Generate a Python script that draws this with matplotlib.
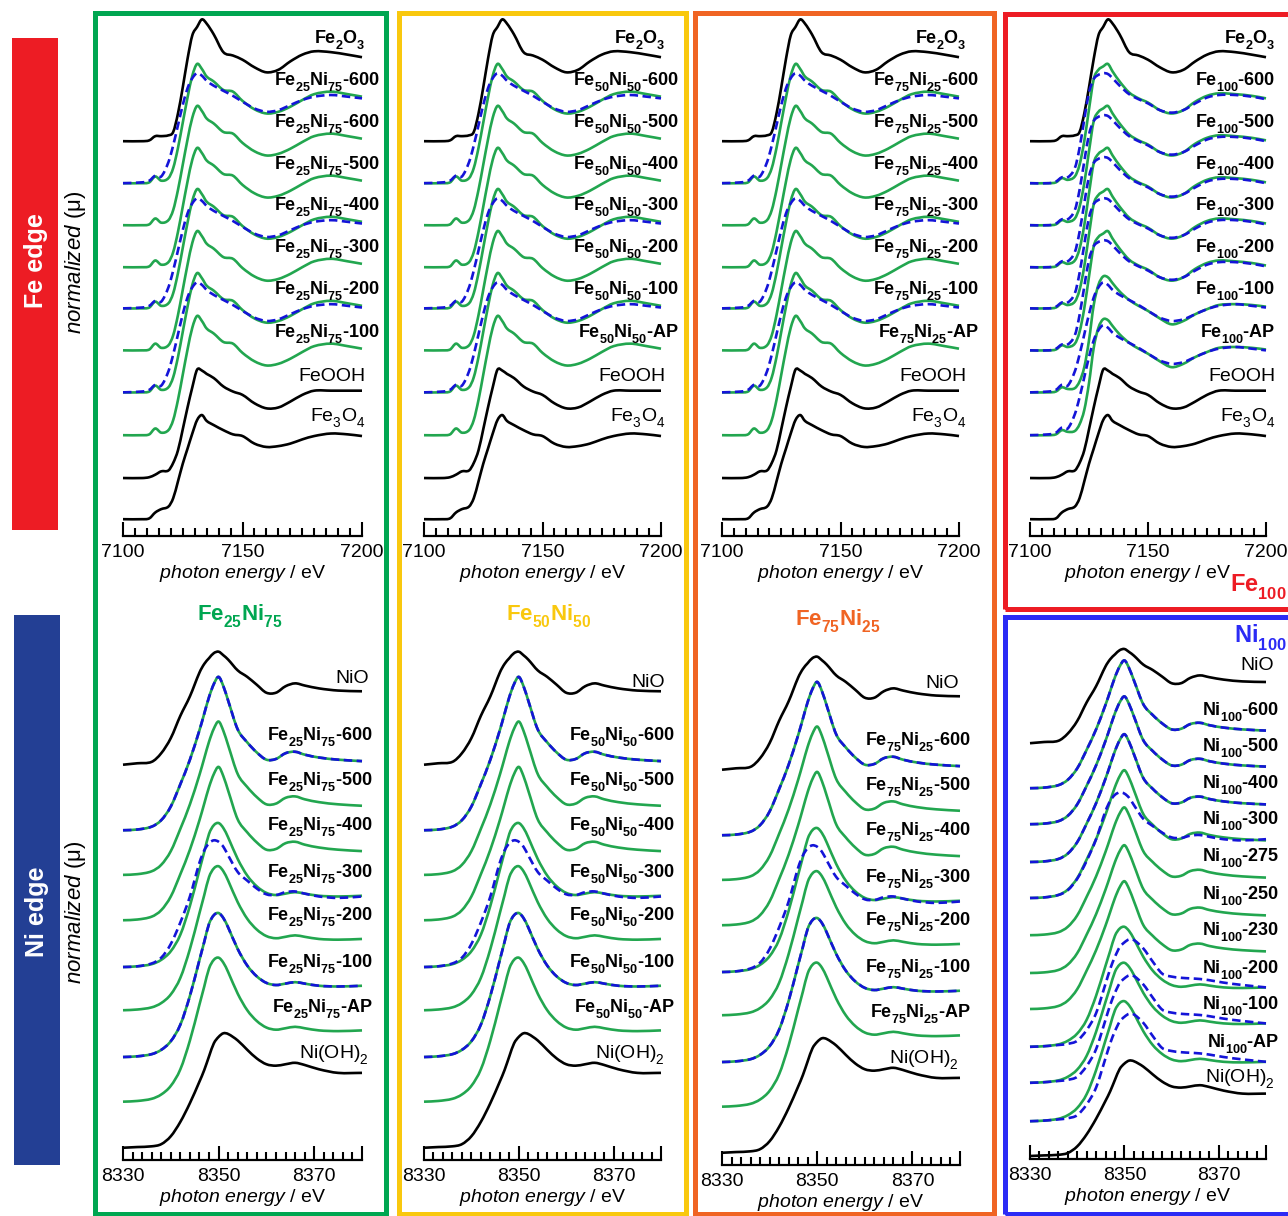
import matplotlib.pyplot as plt
from matplotlib.patches import Rectangle, PathPatch
from matplotlib.path import Path
from matplotlib.ticker import MultipleLocator

plt.rcParams['font.family'] = ['Liberation Sans', 'DejaVu Sans']
plt.rcParams['mathtext.fontset'] = 'custom'
plt.rcParams['mathtext.rm'] = 'Liberation Sans'
plt.rcParams['mathtext.it'] = 'Liberation Sans:italic'
plt.rcParams['mathtext.bf'] = 'Liberation Sans:bold'
plt.rcParams['mathtext.default'] = 'regular'

# subscripts sit lower in the original labels
try:
    import matplotlib._mathtext as _mt
    _mt.FontConstantsBase.sub1 = 0.65
except Exception:
    pass

# ---- Fe K-edge spectra (normalized mu) ----
FE_E = [7100, 7108, 7111, 7113.5, 7116, 7119, 7121, 7123, 7125, 7127, 7129, 7131, 7133, 7135,
        7138, 7142, 7146, 7150, 7155, 7160, 7165, 7170, 7175, 7180, 7187, 7194, 7200]
fe2o3 = [0.00, 0.00, 0.01, 0.06, 0.06, 0.07, 0.11, 0.33, 0.64, 0.98, 1.26, 1.36, 1.45, 1.40,
         1.27, 1.06, 1.02, 0.97, 0.88, 0.82, 0.85, 0.95, 1.03, 1.07, 1.06, 1.03, 1.00]
fe3o4 = [0.00, 0.00, 0.01, 0.08, 0.12, 0.15, 0.25, 0.45, 0.66, 0.84, 1.02, 1.18, 1.24, 1.17,
         1.12, 1.06, 1.01, 0.99, 0.90, 0.86, 0.87, 0.90, 0.95, 0.99, 1.02, 1.01, 0.99]
feooh = [0.00, 0.00, 0.01, 0.04, 0.08, 0.09, 0.18, 0.33, 0.58, 0.84, 1.08, 1.29, 1.28, 1.24,
         1.19, 1.09, 1.03, 0.99, 0.89, 0.83, 0.84, 0.91, 0.99, 1.04, 1.04, 1.04, 1.04]
feni_green = [0.00, 0.00, 0.01, 0.08, 0.03, 0.06, 0.18, 0.42, 0.72, 1.02, 1.28, 1.42, 1.36, 1.27,
              1.21, 1.11, 1.09, 0.98, 0.88, 0.83, 0.85, 0.91, 0.99, 1.06, 1.09, 1.06, 1.03]
feni_fit = [0.00, 0.01, 0.03, 0.09, 0.08, 0.25, 0.45, 0.69, 0.93, 1.13, 1.25, 1.31, 1.28, 1.22,
            1.16, 1.10, 1.04, 0.97, 0.89, 0.85, 0.87, 0.93, 0.99, 1.03, 1.05, 1.03, 1.01]
fe100_green = [0.00, 0.00, 0.01, 0.06, 0.04, 0.08, 0.22, 0.50, 0.88, 1.24, 1.35, 1.39, 1.42, 1.33,
               1.21, 1.08, 1.01, 0.96, 0.87, 0.83, 0.87, 0.97, 1.04, 1.07, 1.06, 1.04, 1.01]
fe100_late = [0.00, 0.00, 0.01, 0.06, 0.04, 0.05, 0.13, 0.30, 0.62, 1.04, 1.28, 1.38, 1.37, 1.30,
              1.20, 1.10, 1.03, 0.97, 0.88, 0.81, 0.85, 0.93, 0.99, 1.04, 1.05, 1.04, 1.02]
fe100_fit = [0.00, 0.00, 0.02, 0.07, 0.07, 0.18, 0.42, 0.76, 1.08, 1.24, 1.29, 1.31, 1.30, 1.25,
             1.16, 1.06, 1.00, 0.95, 0.87, 0.84, 0.87, 0.95, 1.02, 1.05, 1.05, 1.03, 1.00]

# ---- Ni K-edge spectra ----
NI_E = [8330, 8333, 8336, 8338, 8340, 8342, 8344, 8346, 8347, 8348, 8349, 8350, 8351, 8352,
        8354, 8356, 8358, 8360, 8362, 8364, 8366, 8368, 8371, 8375, 8380]
nio = [0.00, 0.02, 0.04, 0.16, 0.37, 0.68, 0.95, 1.28, 1.40, 1.48, 1.55, 1.57, 1.52, 1.46,
       1.31, 1.22, 1.11, 1.00, 1.00, 1.09, 1.13, 1.10, 1.06, 1.03, 1.02]
nioh2 = [0.00, 0.01, 0.02, 0.05, 0.16, 0.36, 0.62, 0.92, 1.08, 1.27, 1.45, 1.54, 1.59, 1.58,
         1.49, 1.36, 1.24, 1.16, 1.14, 1.16, 1.18, 1.15, 1.09, 1.04, 1.04]
ni_sharp = [0.00, 0.01, 0.05, 0.14, 0.33, 0.64, 0.98, 1.39, 1.62, 1.85, 2.03, 2.13, 2.00, 1.80,
            1.40, 1.22, 1.08, 0.98, 0.99, 1.07, 1.09, 1.05, 1.01, 0.98, 0.96]
ni_broad = [0.00, 0.01, 0.04, 0.10, 0.22, 0.45, 0.85, 1.35, 1.60, 1.85, 1.97, 2.00, 1.93, 1.80,
            1.50, 1.27, 1.12, 1.03, 1.00, 1.02, 1.04, 1.02, 0.99, 0.98, 0.99]
ni_fit = [0.00, 0.01, 0.05, 0.13, 0.32, 0.62, 0.98, 1.45, 1.62, 1.72, 1.76, 1.74, 1.67, 1.55,
          1.32, 1.20, 1.09, 1.01, 1.00, 1.04, 1.05, 1.02, 0.98, 0.96, 0.98]
ni100_fit = [0.00, 0.01, 0.03, 0.05, 0.10, 0.28, 0.56, 1.05, 1.30, 1.50, 1.66, 1.74, 1.79, 1.78,
             1.64, 1.42, 1.22, 1.17, 1.15, 1.14, 1.13, 1.11, 1.07, 1.03, 0.99]

SPECTRA = {'fe2o3': fe2o3, 'fe3o4': fe3o4, 'feooh': feooh, 'feni': feni_green, 'feni_fit': feni_fit,
           'fe100': fe100_green, 'fe100_late': fe100_late, 'fe100_fit': fe100_fit,
           'nio': nio, 'nioh2': nioh2, 'sharp': ni_sharp, 'broad': ni_broad, 'ni_fit': ni_fit,
           'ni100_fit': ni100_fit}
REFS = ['fe2o3', 'fe3o4', 'feooh', 'nio', 'nioh2']

# stacking offsets (normalized units above the energy axis)
FE_OFFSETS = [4.70, 4.20, 3.70, 3.20, 2.71, 2.21, 1.71, 1.20, 0.69, 0.20]
NI_OFFSETS = [5.49, 4.58, 3.96, 3.33, 2.68, 2.08, 1.43, 0.81, 0.17]
NI100_OFFSETS = [6.93, 6.18, 5.58, 4.95, 4.35, 3.73, 3.10, 2.50, 1.87, 1.27, 0.63, 0.05]


def sample(comp, suffix):
    return r'$\mathbf{' + comp + '}$-' + suffix


FE2O3 = r'$\mathbf{Fe_2O_3}$'
FE3O4 = r'Fe$_3$O$_4$'
NIOH2 = r'Ni(OH)$_2$'
C25, C50, C75, C100 = 'Fe_{25}Ni_{75}', 'Fe_{50}Ni_{50}', 'Fe_{75}Ni_{25}', 'Fe_{100}'

fe_top1 = [FE2O3] + [sample(C25, s) for s in ['600', '600', '500', '400', '300', '200', '100']] + ['FeOOH', FE3O4]
fe_top2 = [FE2O3] + [sample(C50, s) for s in ['600', '500', '400', '300', '200', '100', 'AP']] + ['FeOOH', FE3O4]
fe_top3 = [FE2O3] + [sample(C75, s) for s in ['600', '500', '400', '300', '200', '100', 'AP']] + ['FeOOH', FE3O4]
fe_top4 = [FE2O3] + [sample(C100, s) for s in ['600', '500', '400', '300', '200', '100', 'AP']] + ['FeOOH', FE3O4]
fe_shapes = ['fe2o3'] + ['feni'] * 7 + ['feooh', 'fe3o4']
fe_fits13 = [None, 'feni_fit', None, None, 'feni_fit', None, 'feni_fit', None, None, None]
fe100_shapes = ['fe2o3'] + ['fe100'] * 5 + ['fe100_late'] * 2 + ['feooh', 'fe3o4']
fe100_fits = [None] + ['fe100_fit'] * 5 + ['feni_fit'] * 2 + [None, None]

NI_SUF = ['600', '500', '400', '300', '200', '100', 'AP']
ni_bot1 = ['NiO'] + [sample(C25, s) for s in NI_SUF] + [NIOH2]
ni_bot2 = ['NiO'] + [sample(C50, s) for s in NI_SUF] + [NIOH2]
ni_bot3 = ['NiO'] + [sample(C75, s) for s in NI_SUF] + [NIOH2]
ni_bot4 = ['NiO'] + [sample('Ni_{100}', s) for s in ['600', '500', '400', '300', '275', '250', '230',
                                                      '200', '100', 'AP']] + [NIOH2]
ni_shapes = ['nio', 'sharp', 'sharp', 'sharp', 'broad', 'broad', 'broad', 'broad', 'nioh2']
ni_fits = [None, 'sharp', None, None, 'ni_fit', None, 'broad', None, None]
ni100_shapes = ['nio'] + ['sharp'] * 7 + ['broad'] * 3 + ['nioh2']
ni100_fits = [None, 'sharp', 'sharp', 'sharp', 'ni_fit', None, None, None,
              'ni100_fit', 'ni100_fit', 'ni100_fit', None]

GREEN = '#22a64f'
FIT = '#1414d8'
W, H = 1288, 1216

fig = plt.figure(figsize=(W / 100, H / 100), dpi=100)


def smooth_path(x, y):
    # cubic Hermite (Bezier) path through the read points, for a smooth pen line
    n = len(x)
    m = []
    for i in range(n):
        a, b = max(i - 1, 0), min(i + 1, n - 1)
        m.append((y[b] - y[a]) / (x[b] - x[a]))
    verts = [(x[0], y[0])]
    codes = [Path.MOVETO]
    for i in range(n - 1):
        h = x[i + 1] - x[i]
        verts += [(x[i] + h / 3, y[i] + m[i] * h / 3),
                  (x[i + 1] - h / 3, y[i + 1] - m[i + 1] * h / 3),
                  (x[i + 1], y[i + 1])]
        codes += [Path.CURVE4] * 3
    return Path(verts, codes)


def draw(ax, x, y, **kw):
    ax.add_patch(PathPatch(smooth_path(x, y), fill=False, clip_on=False,
                           joinstyle='round', capstyle='butt', **kw))


def panel(x0, x1, spine, top, ppu, edge, names, shapes, fits, offsets, bold_x, ref_x, dy, nio_dy=0):
    ax = fig.add_axes([x0 / W, 1 - spine / H, (x1 - x0) / W, (spine - top) / H])
    ax.patch.set_visible(False)
    for s in ['top', 'right', 'left']:
        ax.spines[s].set_visible(False)
    ax.spines['bottom'].set_linewidth(1.6)
    ax.set_yticks([])
    ax.set_ylim(0, (spine - top) / ppu)
    if edge == 'fe':
        E = FE_E
        ax.set_xlim(7100, 7200)
        ax.set_xticks([7100, 7150, 7200])
        ax.xaxis.set_minor_locator(MultipleLocator(5))
    else:
        E = NI_E
        ax.set_xlim(8330, 8380)
        ax.set_xticks([8330, 8350, 8370, 8380])
        ax.set_xticklabels(['8330', '8350', '8370', ''])
        ax.xaxis.set_minor_locator(MultipleLocator(2))
    ax.tick_params(axis='x', which='both', direction='in', width=1.5, labelsize=14, pad=6)
    ax.tick_params(axis='x', which='major', length=10)
    ax.tick_params(axis='x', which='minor', length=5.5)
    ax.set_xlabel(r'$\it{photon\ energy}$ / eV', fontsize=14, labelpad=1)

    for name, shp, fit, off in zip(names, shapes, fits, offsets):
        ref = shp in REFS
        y = [v + off for v in SPECTRA[shp]]
        draw(ax, E, y, edgecolor='black' if ref else GREEN, lw=1.9, zorder=2)
        if fit is not None:
            yf = [v + off for v in SPECTRA[fit]]
            draw(ax, E, yf, edgecolor=FIT, lw=1.9, ls=(0, (3.2, 1.7)), zorder=3)
        bold = (not ref) or shp == 'fe2o3'
        ty = off + dy - (nio_dy / ppu if shp == 'nio' else 0)
        ax.text(ref_x if ref else bold_x, ty, name, ha='right', va='baseline',
                fontsize=13 if bold else 14, fontweight='bold' if bold else 'normal',
                clip_on=False, zorder=4)
    return ax


# Fe edge (top row)
panel(123, 362, 536, 12, 84, 'fe', fe_top1, fe_shapes, fe_fits13, FE_OFFSETS, 7207.5, 7201.5, 1.16)
panel(424, 661, 536, 12, 84, 'fe', fe_top2, fe_shapes, fe_fits13, FE_OFFSETS, 7207.5, 7202, 1.16)
panel(722, 959, 536, 12, 84, 'fe', fe_top3, fe_shapes, fe_fits13, FE_OFFSETS, 7208.5, 7203, 1.16)
panel(1030, 1266, 536, 12, 84, 'fe', fe_top4, fe100_shapes, fe100_fits, FE_OFFSETS, 7204, 7204, 1.16)

# Ni edge (bottom row)
panel(123, 362, 1160, 620, 72, 'ni', ni_bot1, ni_shapes, ni_fits, NI_OFFSETS, 8382.3, 8381.5, 1.24, 8)
panel(424, 661, 1160, 620, 72, 'ni', ni_bot2, ni_shapes, ni_fits, NI_OFFSETS, 8383, 8380.8, 1.24, 12)
panel(722, 960, 1165, 620, 72, 'ni', ni_bot3, ni_shapes, ni_fits, NI_OFFSETS, 8382.2, 8379.7, 1.24, 8)
panel(1030, 1266, 1159, 620, 60, 'ni', ni_bot4, ni100_shapes, ni100_fits, NI100_OFFSETS, 8382.8, 8381.8, 1.22)


def box(x0, y0, x1, y1, color, lw=3.6):
    fig.patches.append(Rectangle((x0 / W, 1 - y1 / H), (x1 - x0) / W, (y1 - y0) / H,
                                 transform=fig.transFigure, fill=False, edgecolor=color,
                                 lw=lw, zorder=5))


def band(x0, y0, x1, y1, color):
    fig.patches.append(Rectangle((x0 / W, 1 - y1 / H), (x1 - x0) / W, (y1 - y0) / H,
                                 transform=fig.transFigure, facecolor=color, edgecolor='none'))


def ftext(x, y, s, **kw):
    fig.text(x / W, 1 - y / H, s, **kw)


box(95.5, 12.5, 385.5, 1213.5, '#00a651')
box(398.5, 12.5, 686, 1213.5, '#f9c80e')
box(694.5, 12.5, 993.5, 1213.5, '#f06423')
box(1004.5, 14, 1300, 608.5, '#ed1c24')
box(1004.5, 616.5, 1300, 1213.5, '#2b2bf5')

band(12, 38, 58, 530, '#ed1c24')
band(14, 615, 60, 1165, '#233f94')
ftext(36, 261, 'Fe edge', color='white', fontsize=18, fontweight='bold', rotation=90,
      ha='center', va='center')
ftext(37, 912, 'Ni edge', color='white', fontsize=18, fontweight='bold', rotation=90,
      ha='center', va='center')
ftext(76, 262, r'$\it{normalized}$ (μ)', fontsize=16, rotation=90, ha='center', va='center')
ftext(76, 912, r'$\it{normalized}$ (μ)', fontsize=16, rotation=90, ha='center', va='center')

ftext(240, 620, r'$\mathbf{Fe_{25}Ni_{75}}$', color='#00a651', fontsize=16, ha='center', va='baseline')
ftext(549, 620, r'$\mathbf{Fe_{50}Ni_{50}}$', color='#f9c80e', fontsize=16, ha='center', va='baseline')
ftext(838, 625, r'$\mathbf{Fe_{75}Ni_{25}}$', color='#f06423', fontsize=16, ha='center', va='baseline')
ftext(1287, 592, r'$\mathbf{Fe_{100}}$', color='#ed1c24', fontsize=17, ha='right', va='baseline')
ftext(1287, 643, r'$\mathbf{Ni_{100}}$', color='#2b2bf5', fontsize=17, ha='right', va='baseline')

fig.savefig('out.png', dpi=100)
